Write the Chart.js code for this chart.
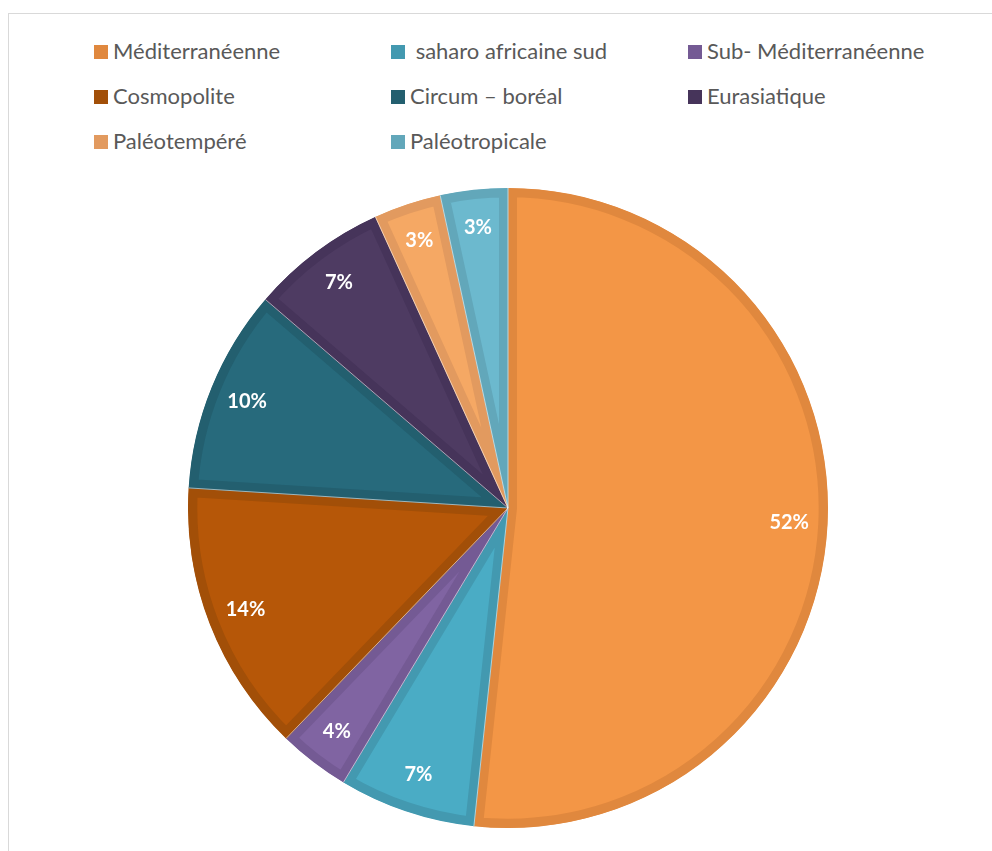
<!DOCTYPE html>
<html>
<head>
<meta charset="utf-8">
<script src="https://cdn.jsdelivr.net/npm/chart.js@4.4.1/dist/chart.umd.min.js"></script>
<style>
    body { margin: 0; background: #fff; width: 992px; height: 851px; overflow: hidden; position: relative; font-family: Lato, "Open Sans", sans-serif; }
    .frame { position: absolute; left: 8px; top: 13px; width: 1000px; height: 900px; border: 1px solid #d9d9d9; box-sizing: border-box; }
    .legend { position: absolute; left: 94px; top: 36px; }
    .legend-item { position: absolute; white-space: nowrap; font-size: 22px; color: #595959; line-height: 30px; }
    .legend-item span.box { display: inline-block; width: 14px; height: 14px; margin-right: 5px; vertical-align: 0px; }
    .chart-box { position: absolute; left: 188px; top: 188px; width: 640px; height: 640px; }
</style>
</head>
<body>
<div class="frame"></div>
<div class="legend" id="legend"></div>
<div class="chart-box"><canvas id="pieChart"></canvas></div>
<script>
const labels = ["Méditerranéenne", " saharo africaine sud", "Sub- Méditerranéenne", "Cosmopolite", "Circum – boréal", "Eurasiatique", "Paléotempéré", "Paléotropicale"];
const values = [51.7, 6.9, 3.6, 13.8, 10.3, 6.9, 3.4, 3.4];
const fillColors = ["#f39646", "#4aacc5", "#8064a2", "#b65708", "#276a7c", "#4e3b62", "#f5a864", "#6cb9ce"];
const edgeColors = ["#e0883e", "#4399b0", "#745a94", "#a24f08", "#235f6f", "#46345a", "#e29a5f", "#62a7ba"];

document.addEventListener("DOMContentLoaded", function () {
    const legendEl = document.getElementById("legend");
    labels.forEach((label, i) => {
        const item = document.createElement("div");
        item.className = "legend-item";
        item.style.left = (i % 3) * 297 + "px";
        item.style.top = Math.floor(i / 3) * 45 + "px";
        item.innerHTML = `<span class="box" style="background:${edgeColors[i]}"></span>${label}`;
        legendEl.appendChild(item);
    });

    const total = values.reduce((s, v) => s + v, 0);

    // percent labels inside each slice, plus thin light separators
    const sliceLabels = {
        id: "sliceLabels",
        afterDatasetsDraw(chart) {
            const ctx = chart.ctx;
            const arcs = chart.getDatasetMeta(0).data;
            ctx.save();
            ctx.strokeStyle = "rgba(255,255,255,0.55)";
            ctx.lineWidth = 1;
            arcs.forEach(arc => {
                ctx.beginPath();
                ctx.moveTo(arc.x, arc.y);
                ctx.lineTo(arc.x + arc.outerRadius * Math.cos(arc.startAngle), arc.y + arc.outerRadius * Math.sin(arc.startAngle));
                ctx.stroke();
            });
            ctx.fillStyle = "#fff";
            ctx.font = "bold 20px Lato, sans-serif";
            ctx.textAlign = "center";
            ctx.textBaseline = "middle";
            arcs.forEach((arc, i) => {
                const mid = (arc.startAngle + arc.endAngle) / 2;
                const r = arc.outerRadius * 0.88;
                const pct = Math.round(values[i] / total * 100) + "%";
                ctx.fillText(pct, arc.x + r * Math.cos(mid), arc.y + r * Math.sin(mid));
            });
            ctx.restore();
        }
    };

    new Chart(document.getElementById("pieChart"), {
        type: "pie",
        data: {
            labels: labels,
            datasets: [{
                data: values,
                backgroundColor: fillColors,
                borderColor: edgeColors,
                borderWidth: 9,
                borderAlign: "inner",
                hoverOffset: 0
            }]
        },
        options: {
            responsive: true,
            maintainAspectRatio: false,
            animation: false,
            events: [],
            plugins: {
                legend: { display: false },
                tooltip: { enabled: false }
            }
        },
        plugins: [sliceLabels]
    });
});
</script>
</body>
</html>
